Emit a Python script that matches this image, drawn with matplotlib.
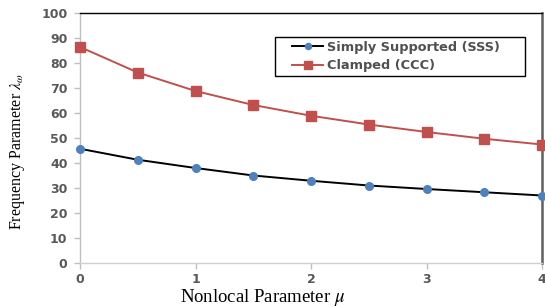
import matplotlib
matplotlib.use("Agg")
import matplotlib.pyplot as plt
from matplotlib.patches import Rectangle

plt.rcParams["mathtext.fontset"] = "stix"

mu = [0, 0.5, 1, 1.5, 2, 2.5, 3, 3.5, 4]
sss = [45.7, 41.3, 38.0, 35.0, 32.9, 31.0, 29.6, 28.3, 27.0]
ccc = [86.4, 76.2, 68.8, 63.2, 58.9, 55.4, 52.4, 49.7, 47.4]
xticks = [0, 1, 2, 3, 4]
yticks = [0, 10, 20, 30, 40, 50, 60, 70, 80, 90, 100]

fig = plt.figure(figsize=(5.45, 3.07), dpi=100)
ax = fig.add_axes([80/545, 44/307, 462/545, 250/307])

ax.plot(mu, sss, color="black", lw=1.4, marker="o", ms=5.5,
        mfc="#4F81BD", mec="#4F81BD", label="Simply Supported (SSS)", clip_on=False, zorder=3)
ax.plot(mu, ccc, color="#C0504D", lw=1.4, marker="s", ms=6.5,
        mfc="#C0504D", mec="#C0504D", label="Clamped (CCC)", clip_on=False, zorder=3)

ax.set_xlim(0, 4)
ax.set_ylim(0, 100)
ax.set_xticks(xticks)
ax.set_yticks(yticks)
ax.set_xticklabels([str(v) for v in xticks])
ax.set_yticklabels([str(v) for v in yticks])

for lab in ax.get_xticklabels() + ax.get_yticklabels():
    lab.set_fontfamily("DejaVu Sans")
    lab.set_fontweight("bold")
    lab.set_fontsize(9)
    lab.set_color("#595959")

ax.tick_params(axis="both", direction="out", length=4, width=1, color="#BFBFBF")
ax.tick_params(axis="y", pad=5)
ax.tick_params(axis="x", pad=3)

ax.spines["left"].set_color("#BFBFBF")
ax.spines["bottom"].set_color("#D0D0D0")
ax.spines["left"].set_linewidth(1)
ax.spines["bottom"].set_linewidth(1)
ax.spines["top"].set_color("black")
ax.spines["top"].set_linewidth(1)
ax.spines["right"].set_color("#606060")
ax.spines["right"].set_linewidth(1.8)

ax.set_xlabel(r"Nonlocal Parameter $\mu$", fontfamily="Liberation Serif", fontsize=13.5)
ax.xaxis.set_label_coords((263 - 80) / 462, (263 - 287) / 250)
ax.set_ylabel(r"Frequency Parameter $\lambda_\omega$", fontfamily="Liberation Serif",
              fontsize=11.5)
ax.yaxis.set_label_coords((27 - 80) / 462, (263 - 152) / 250)

# legend frame (drawn separately to match the asymmetric padding)
ax.add_patch(Rectangle((0.422, 0.748), 0.541, 0.156, transform=ax.transAxes,
                       fill=True, facecolor="white", edgecolor="black", lw=1, zorder=4))
leg = ax.legend(loc="upper left", bbox_to_anchor=(0.459, 0.89),
                frameon=False, borderaxespad=0, borderpad=0,
                prop={"family": "DejaVu Sans", "size": 9.3, "weight": "bold"},
                handlelength=2.4, labelspacing=0.45, handletextpad=0.3,
                markerscale=0.8)
leg.set_zorder(5)
for t in leg.get_texts():
    t.set_color("#505050")

fig.savefig("out.png", dpi=100)
